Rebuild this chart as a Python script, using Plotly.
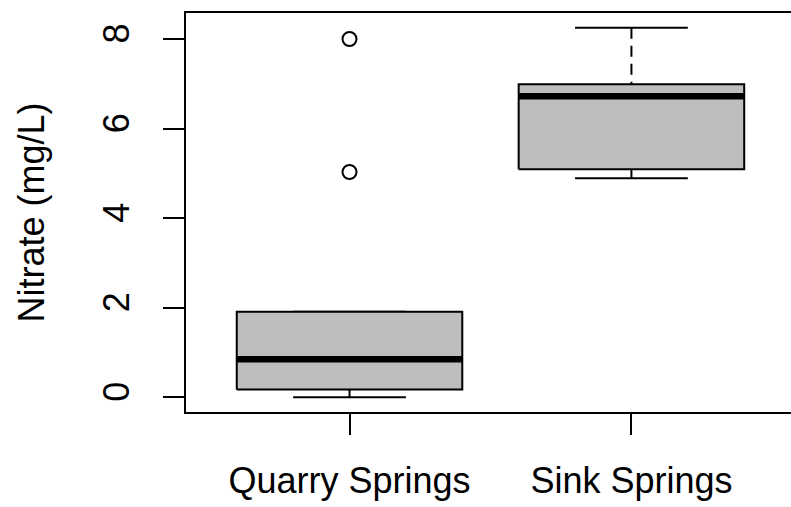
import plotly.graph_objects as go

categories = ["Quarry Springs", "Sink Springs"]
lower_whisker = [0.0, 4.89]
q1 = [0.17, 5.09]
median = [0.85, 6.72]
q3 = [1.91, 6.99]
upper_whisker = [1.91, 8.25]
outliers = [[5.03, 8.0], []]
y_ticks = [0, 2, 4, 6, 8]

FONT = "Liberation Sans, Arial, sans-serif"
BOX_HALF = 0.4
CAP_HALF = 0.2
LW = 2

fig = go.Figure()
for i, cat in enumerate(categories):
    c = i + 1
    # whiskers (dashed), drawn from the staple toward the box
    fig.add_trace(go.Scatter(x=[c, c], y=[upper_whisker[i], q3[i]], mode="lines",
                             line=dict(color="black", width=LW, dash="11px,7px"),
                             showlegend=False, hoverinfo="skip"))
    fig.add_trace(go.Scatter(x=[c, c], y=[lower_whisker[i], q1[i]], mode="lines",
                             line=dict(color="black", width=LW, dash="11px,7px"),
                             showlegend=False, hoverinfo="skip"))
    # staples
    for w in (upper_whisker[i], lower_whisker[i]):
        fig.add_trace(go.Scatter(x=[c - CAP_HALF, c + CAP_HALF], y=[w, w], mode="lines",
                                 line=dict(color="black", width=LW),
                                 showlegend=False, hoverinfo="skip"))
    # box
    fig.add_trace(go.Scatter(
        x=[c - BOX_HALF, c + BOX_HALF, c + BOX_HALF, c - BOX_HALF, c - BOX_HALF],
        y=[q1[i], q1[i], q3[i], q3[i], q1[i]],
        mode="lines", fill="toself", fillcolor="#BEBEBE",
        line=dict(color="black", width=LW), showlegend=False, hoverinfo="skip"))
    # median
    fig.add_trace(go.Scatter(x=[c - BOX_HALF, c + BOX_HALF], y=[median[i], median[i]],
                             mode="lines", line=dict(color="black", width=6.5),
                             showlegend=False, hoverinfo="skip"))
    # outliers
    if outliers[i]:
        fig.add_trace(go.Scatter(x=[c] * len(outliers[i]), y=outliers[i], mode="markers",
                                 marker=dict(symbol="circle-open", size=14,
                                             color="black", line=dict(width=2)),
                                 showlegend=False, hoverinfo="skip"))

fig.update_layout(
    width=791, height=507, autosize=False,
    margin=dict(l=185.5, r=0, t=12.5, b=94.5, pad=0),
    plot_bgcolor="white", paper_bgcolor="white",
    font=dict(family=FONT, size=36, color="black"),
    xaxis=dict(range=[0.42, 2.566], tickmode="array", tickvals=[1, 2], ticktext=categories,
               ticks="outside", ticklen=21, tickwidth=LW, tickcolor="black",
               showline=True, mirror=True, linecolor="black", linewidth=LW,
               showgrid=False, zeroline=False, ticklabelstandoff=15,
               tickfont=dict(family=FONT, size=36, color="black")),
    yaxis=dict(range=[-0.33, 8.58], tickmode="array", tickvals=y_ticks,
               ticktext=[str(t) for t in y_ticks], tickangle=-90,
               ticks="outside", ticklen=21, tickwidth=LW, tickcolor="black",
               showline=True, mirror=False, linecolor="black", linewidth=LW,
               showgrid=False, zeroline=False, ticklabelstandoff=20,
               tickfont=dict(family=FONT, size=36, color="black"),
               title=dict(text="Nitrate (mg/L)", font=dict(family=FONT, size=36, color="black"),
                          standoff=40)),
)

fig.write_html(
    "out.html",
    config={"displayModeBar": False},
    post_script="document.body.style.margin='0';document.body.style.overflow='hidden';",
)
